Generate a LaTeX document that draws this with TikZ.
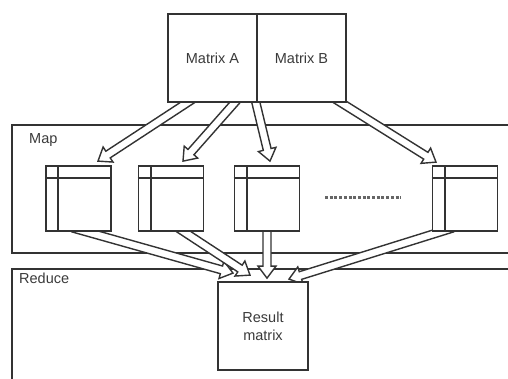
\documentclass[tikz,border=0pt]{standalone}
\usepackage{fontspec}
\setmainfont{Liberation Sans}
\usetikzlibrary{calc}
\definecolor{ln}{HTML}{333333}
\definecolor{tx}{HTML}{3A3A3A}
\definecolor{dotc}{HTML}{666666}
\pgfdeclarelayer{bg}
\pgfdeclarelayer{arrows}
\pgfsetlayers{bg,arrows,main}
\newcommand\harrow[2]{%
 \coordinate (hA) at ($(#2)!12pt!(#1)$);
 \coordinate (s1) at ($(#1)!4pt!90:(#2)$);
 \coordinate (s2) at ($(#1)!4pt!-90:(#2)$);
 \coordinate (h1) at ($(hA)!4pt!90:(#2)$);
 \coordinate (h2) at ($(hA)!4pt!-90:(#2)$);
 \coordinate (w1) at ($(hA)!9pt!90:(#2)$);
 \coordinate (w2) at ($(hA)!9pt!-90:(#2)$);
 \fill[white] (s1) -- (h1) -- (w1) -- (#2) -- (w2) -- (h2) -- (s2) -- cycle;
 \draw[arr] (s1) -- (h1) -- (w1) -- (#2) -- (w2) -- (h2) -- (s2);
}
\newcommand\matlines[1]{%
 \draw[ln,line width=1.8pt] ([yshift=-13pt]#1.north west) -- ([yshift=-13pt]#1.north east)
   ([xshift=13pt]#1.north west) -- ([xshift=13pt]#1.south west);
}
\begin{document}
\begin{tikzpicture}[x=1pt,y=-1pt,
 box/.style={draw=ln,line width=1.8pt,fill=white,inner sep=0pt,text=tx,font=\fontsize{14.5}{18}\selectfont,align=center},
 bigbox/.style={box,minimum width=89pt,minimum height=88pt},
 smat/.style={box,minimum width=65pt,minimum height=65pt},
 arr/.style={draw=ln,line width=1.4pt,line join=miter},
 cont/.style={draw=ln,line width=1.8pt},
 lbl/.style={text=tx,font=\fontsize{14.5}{18}\selectfont,inner sep=0pt}]
\useasboundingbox (0,0) rectangle (508,378);
% containers
\begin{pgfonlayer}{bg}
\draw[cont] (509,125) -- (12,125) -- (12,253) -- (509,253);
\draw[cont] (509,269) -- (12,269) -- (12,379);
\end{pgfonlayer}
\node[lbl,anchor=base west] (maplbl) at (29,143) {Map};
\node[lbl,anchor=base west] (redlbl) at (19,283) {Reduce};
% nodes
\node[bigbox] (A) at (212.5,58) {Matrix A};
\node[bigbox] (B) at (301.5,58) {Matrix B};
\node[smat] (m1) at (78.5,198.5) {};
\node[smat] (m2) at (171,198.5) {};
\node[smat] (m3) at (267,198.5) {};
\node[smat] (m4) at (465,198.5) {};
\matlines{m1}
\matlines{m2}
\matlines{m3}
\matlines{m4}
\node[box,minimum width=90pt,minimum height=88pt] (R) at (263,326) {Result\\matrix};
\coordinate (d1) at (325,197);
\coordinate (d2) at (401,197);
\draw[dotc,line width=3pt,dash pattern=on 3pt off 1.7pt] (d1) -- (d2);
% arrow end points
\coordinate (a1) at ($(A.south)+(-19.5,-4)$);
\coordinate (a2) at ($(A.south)+(25.5,-4)$);
\coordinate (a3) at ($(A.south)+(42.5,-4)$);
\coordinate (a4) at ($(B.south)+(33.5,-4)$);
\coordinate (t1) at ($(m1.north)+(19.5,-4)$);
\coordinate (t2) at ($(m2.north)+(12,-4)$);
\coordinate (t3) at ($(m3.north)+(3,-4)$);
\coordinate (t4) at ($(m4.north)+(-29,-3)$);
\coordinate (b1) at ($(m1.south)+(-6,-4)$);
\coordinate (b2) at ($(m2.south)+(7,-4)$);
\coordinate (b3) at ($(m3.south)+(0,-4)$);
\coordinate (b4) at ($(m4.south)+(-12,-4)$);
\coordinate (r1) at ($(R.north)+(-30,-8)$);
\coordinate (r2) at ($(R.north)+(-13,-6)$);
\coordinate (r3) at ($(R.north)+(4,-3)$);
\coordinate (r4) at ($(R.north)+(26,-2)$);
\begin{pgfonlayer}{arrows}
\harrow{a1}{t1}
\harrow{a2}{t2}
\harrow{a3}{t3}
\harrow{a4}{t4}
\harrow{b1}{r1}
\harrow{b2}{r2}
\harrow{b3}{r3}
\harrow{b4}{r4}
\end{pgfonlayer}
\end{tikzpicture}
\end{document}
